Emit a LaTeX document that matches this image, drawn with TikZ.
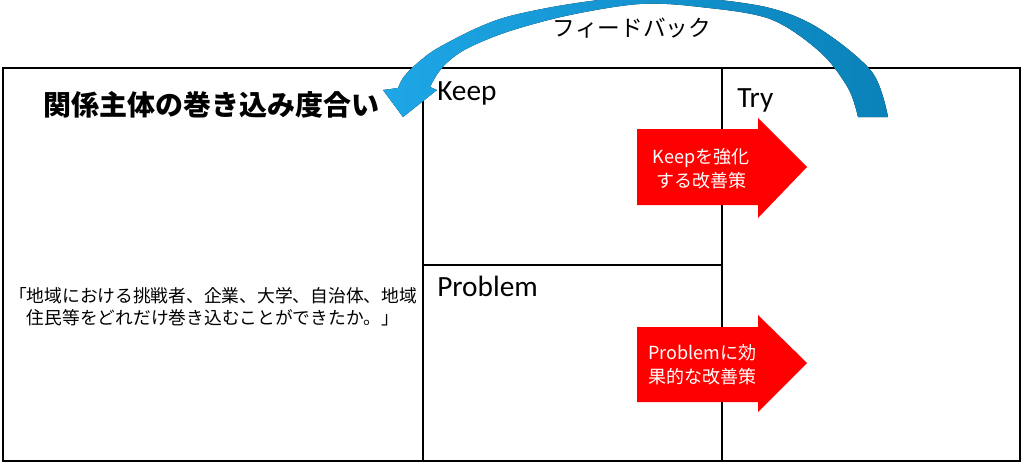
\documentclass[tikz,border=0pt]{standalone}
\usepackage{fontspec}
\setmainfont{Carlito}
\newfontfamily\jp{Noto Sans CJK JP}
\begin{document}
\definecolor{fbl}{RGB}{30,166,230}
\definecolor{fbr}{RGB}{10,130,185}
\begin{tikzpicture}[x=0.75pt,y=-0.75pt,
  frame/.style={line width=1.9pt,black},
  redarrow/.style={fill=red,draw=none},
  cellhead/.style={font=\fontsize{22}{26}\selectfont,anchor=base west,inner sep=0pt},
  atext/.style={text=white,align=center,inner sep=0pt,font=\jp\fontsize{13.5}{18}\selectfont}]
\useasboundingbox (0,0) rectangle (1024,464);
\clip (0,0) rectangle (1024,464);
% frame
\draw[frame] (3,68) rectangle (1020,461);
\draw[frame] (423,68) -- (423,461);
\draw[frame] (722,68) -- (722,461);
\draw[frame] (423,265) -- (722,265);
% red arrows
\fill[redarrow] (637,129) -- (758,129) -- (758,118) -- (807,167) -- (758,218) -- (758,205) -- (637,205) -- cycle;
\fill[redarrow] (637,327) -- (758,327) -- (758,315) -- (807,363) -- (758,412) -- (758,402) -- (637,402) -- cycle;
\node[atext] (t1) at (701,169) {Keepを強化\\する改善策};
\node[atext] (t2) at (702,365) {Problemに効\\果的な改善策};
% feedback arrow
\fill[left color=fbl,right color=fbr]
  (888,117) -- plot[smooth,tension=0.55] coordinates {(888,117) (872,72) (820,29) (770,8) (700,-2) (640,-4) (570,4) (510,16) (477,28) (447,43) (430,53) (413,67) (403,78) (398,88)}
  -- (383,90) -- (403,117) -- (437,90) -- (430,87)
  -- plot[smooth,tension=0.55] coordinates {(430,87) (438,73) (450,60) (470,47) (510,31) (570,15) (640,4) (700,7) (770,19) (820,52) (848,88) (858,117)}
  -- cycle;
\node[font=\jp\fontsize{17}{20}\selectfont] (fb) at (632,28) {フィードバック};
% texts
\node[font=\jp\bfseries\fontsize{21}{25}\selectfont] (title) at (211,105) {関係主体の巻き込み度合い};
\node[align=center,font=\jp\fontsize{13.3}{16.5}\selectfont] (desc) at (213,307) {「地域における挑戦者、企業、大学、自治体、地域\\住民等をどれだけ巻き込むことができたか。」};
\node[cellhead] (keep) at (437,100) {Keep};
\node[cellhead] (problem) at (437,296) {Problem};
\node[cellhead] (try) at (737,107) {Try};
\end{tikzpicture}
\end{document}
